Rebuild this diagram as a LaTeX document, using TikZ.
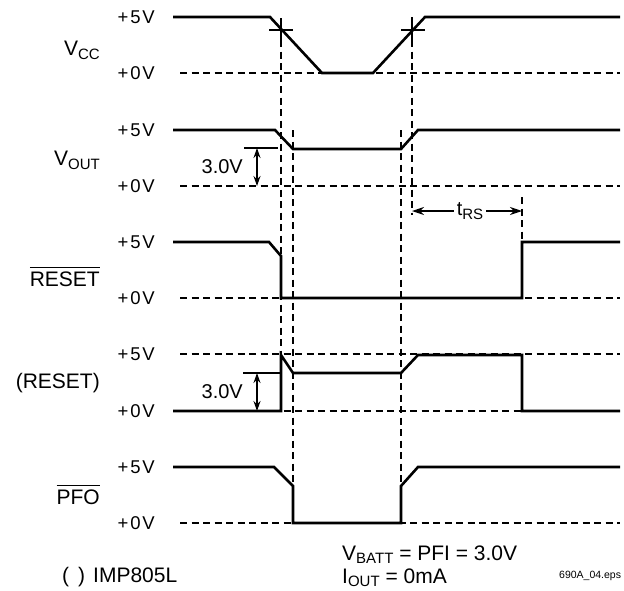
\documentclass[tikz,border=0pt]{standalone}
\usepackage{fontspec}
\setmainfont{Liberation Sans}
\newfontfamily\lvlfont[LetterSpace=10]{Liberation Sans}
\usepackage{tikz}
\usetikzlibrary{arrows.meta}
\newcommand{\lowtext}[1]{\raisebox{-0.35ex}{\fontsize{15}{15}\selectfont #1}}
\newcommand{\ovbar}[1]{\vbox{\hrule height 1.3pt\kern 3.5pt\hbox{#1}}}

\begin{document}
\begin{tikzpicture}[x=1pt,y=-1pt,
  sigline/.style={black, line width=2.6pt},
  dashline/.style={black, line width=1.6pt, dash pattern=on 7pt off 4.5pt},
  thinline/.style={black, line width=1.3pt},
  lvltext/.style={anchor=east, inner sep=0pt, font=\lvlfont\fontsize{18.5}{18.5}\selectfont},
  siglabel/.style={anchor=east, inner sep=0pt, font=\fontsize{21}{21}\selectfont},
  steparrow/.style={thinline, <->, >={Stealth[length=10pt,width=7pt]}},
  timearrow/.style={thinline, ->, >={Stealth[length=12pt,width=8pt]}}]
\useasboundingbox (0,0) rectangle (624,590);

% levels
\foreach \yh/\yl [count=\i] in {17/73,130/186,242/298,354/411,467/523}{
  \node[lvltext] (hi\i) at (155,\yh) {+5V};
  \node[lvltext] (lo\i) at (155,\yl) {+0V};
  \draw[dashline] (180,\yl) -- (620,\yl);
}
\draw[dashline] (180,354) -- (620,354);

% vertical guides
\draw[dashline] (281,40) -- (281,355);
\draw[dashline] (293,130) -- (293,486);
\draw[dashline] (401,130) -- (401,486);
\draw[dashline] (412,40) -- (412,215);
\draw[dashline] (522,197) -- (522,242);

% waveforms
\draw[sigline] (173,17) -- (270,17) -- (322,73) -- (373,73) -- (425,17) -- (620,17);
\draw[sigline] (173,130) -- (275,130) -- (293,149) -- (401,149) -- (418,130) -- (620,130);
\draw[sigline] (173,242) -- (269,242) -- (281,256) -- (281,298) -- (522,298) -- (522,242) -- (620,242);
\draw[sigline] (173,411) -- (281,411) -- (281,355) -- (293,373) -- (401,373) -- (418,355) -- (522,355) -- (522,411) -- (620,411);
\draw[sigline] (173,467) -- (274,467) -- (293,486) -- (293,523) -- (401,523) -- (401,486) -- (418,467) -- (620,467);

% crossing marks
\draw[thinline] (269,30) -- (293,30) (281,18) -- (281,41);
\draw[thinline] (401,30) -- (425,30) (412,17) -- (412,40);

% 3.0V steps
\draw[thinline] (244,148) -- (278,148);
\coordinate (vtop) at (257,148);
\coordinate (vbot) at (257,186);
\draw[steparrow] (vtop) -- (vbot);
\node[siglabel, font=\fontsize{20}{20}\selectfont] (vstep) at (243,167) {3.0V};
\draw[thinline] (243,373) -- (281,373);
\coordinate (rtop) at (257,373);
\coordinate (rbot) at (257,411);
\draw[steparrow] (rtop) -- (rbot);
\node[siglabel, font=\fontsize{20}{20}\selectfont] (rstep) at (243,392) {3.0V};

% reset timeout
\node[inner sep=3pt, font=\fontsize{20}{20}\selectfont] (trs) at (470,211) {t\lowtext{RS}};
\coordinate (trsl) at (412,211);
\coordinate (trsr) at (522,211);
\draw[timearrow] (trs.west) -- (trsl);
\draw[timearrow] (trs.east) -- (trsr);

% signal names
\node[siglabel] (vcc) at (100,50) {V\lowtext{CC}};
\node[siglabel] (vout) at (100,160) {V\lowtext{OUT}};
\node[siglabel] (rstb) at (100,277) {\ovbar{RESET}};
\node[siglabel] (rst) at (100,383) {(RESET)};
\node[siglabel] (pfo) at (100,495) {\ovbar{PFO}};

% notes
\node[anchor=base west, inner sep=0pt, font=\fontsize{21}{21}\selectfont] (imp) at (62,582) {(\hspace{9pt})\hspace{8pt}IMP805L};
\node[anchor=base west, inner sep=0pt, font=\fontsize{21}{21}\selectfont] (vbatt) at (342,560) {V\lowtext{BATT} = PFI = 3.0V};
\node[anchor=base west, inner sep=0pt, font=\fontsize{21}{21}\selectfont] (iout) at (342,583) {I\lowtext{OUT} = 0mA};
\node[anchor=base west, inner sep=0pt, font=\fontsize{10.5}{10.5}\selectfont] (eps) at (559,578) {690A\_04.eps};

\end{tikzpicture}
\end{document}
